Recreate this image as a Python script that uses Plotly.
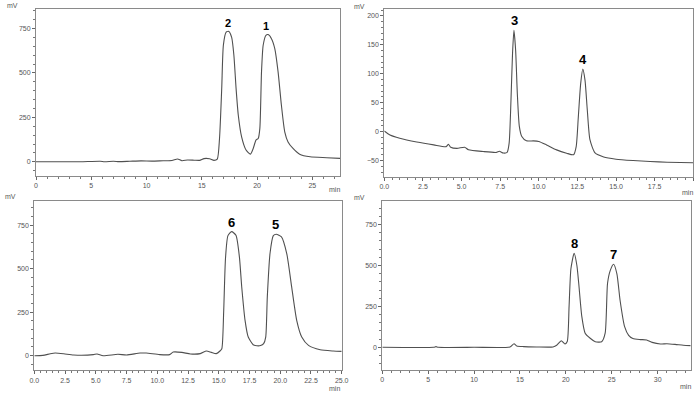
import plotly.graph_objects as go

# ---------------- data ----------------
t1 = [0, 2, 4, 5.8, 6.2, 7.0, 7.5, 8.5, 9.5, 10.5, 11.5, 12.3, 12.8, 13.2, 13.7, 14.3, 14.8, 15.2, 15.7, 16.1,
      16.4, 16.6, 16.8, 16.95, 17.2, 17.45, 17.7, 17.9, 18.1, 18.3, 18.6, 19.0, 19.4, 19.65, 19.9, 20.1, 20.25,
      20.4, 20.55, 20.8, 21.0, 21.3, 21.6, 21.9, 22.2, 22.5, 22.8, 23.25, 23.85, 24.8, 26.3, 27.5]
v1 = [0, 0, 0, 3, 0, 3, 1, 3, 5, 4, 6, 7, 16, 6, 10, 9, 8, 18, 17, 8,
      15, 131, 412, 656, 730, 734, 700, 600, 412, 262, 140, 66, 43, 75, 122, 131, 188,
      506, 656, 712, 716, 693, 637, 506, 318, 169, 112, 75, 43, 28, 23, 19]

t2 = [0, 0.37, 1.0, 2.1, 3.2, 4.0, 4.15, 4.3, 4.7, 5.2, 5.45, 6.4, 7.25, 7.45, 7.7, 7.95, 8.08, 8.2, 8.3,
      8.39, 8.5, 8.61, 8.74, 8.9, 9.2, 9.65, 10.0, 10.5, 11.15, 11.8, 12.25, 12.42, 12.56, 12.71, 12.85,
      12.99, 13.14, 13.31, 13.64, 14.2, 15.0, 16.1, 17.2, 18.3, 20.0]
v2 = [1, -6, -11.5, -18, -23, -26, -22, -27, -29, -27, -31.5, -34.5, -36, -34, -37, -36, -20, 55, 135,
      175, 141, 66, 9, -8.6, -16, -16, -17, -23, -31.6, -37.4, -40, -26, 26, 83, 108,
      89, 37, -14, -37, -44, -47.7, -50, -51.7, -53, -54]

t3 = [0, 0.7, 1.3, 1.7, 2.4, 3.2, 4.8, 5.1, 5.6, 6.8, 7.5, 8.6, 9.1, 10.2, 11.0, 11.3, 12.0, 12.7, 13.5,
      14.0, 14.4, 14.8, 15.1, 15.25, 15.4, 15.55, 15.75, 16.05, 16.4, 16.68, 16.87, 17.14, 17.4, 17.8, 18.1,
      18.4, 18.65, 18.82, 18.95, 19.17, 19.44, 19.68, 20.1, 20.53, 20.93, 21.34, 21.75, 22.3, 23.25, 24.3, 25.0]
v3 = [0, 2, 11, 15, 11, 4, 6, 10, 0, 8, 4, 15, 15, 6, 6, 21, 19, 10, 12,
      27, 19, 12, 27, 40, 250, 560, 690, 713, 692, 568, 395, 203, 107, 63, 57,
      58, 69, 107, 338, 587, 690, 698, 683, 587, 395, 203, 107, 59, 34, 27, 25]

t4 = [0, 5.6, 5.85, 6.1, 10, 13.9, 14.35, 14.65, 15.4, 16.8, 18.6, 19.0, 19.5, 19.9, 20.15, 20.35, 20.55,
      20.9, 21.2, 21.4, 21.74, 22.1, 22.65, 23.2, 23.9, 24.28, 24.54, 24.84, 25.2, 25.56, 25.9, 26.4,
      26.84, 27.3, 28.1, 28.8, 29.4, 30.3, 31.0, 31.9, 32.8, 33.6]
v4 = [0, 0, 4, 0, 0, 2, 22, 8, 4, 2, 2, 12, 40, 20, 35, 250, 480,
      575, 500, 391, 187, 86, 55, 34, 34, 86, 391, 470, 507, 449, 289, 126,
      73, 53, 47, 45, 30, 20, 22, 18, 12, 10]

# peak labels: (panel, label, retention time, height)
peak_labels = [
    (1, "2", 17.33, 734), (1, "1", 20.85, 718),
    (2, "3", 8.41, 175), (2, "4", 12.84, 108),
    (3, "6", 16.0, 713), (3, "5", 19.62, 698),
    (4, "8", 20.9, 575), (4, "7", 25.2, 507),
]

x_ranges = [[0, 27.5], [0, 20], [0, 25], [0, 33.6]]
y_ranges = [[-80, 860], [-78, 212], [-84, 889], [-137, 894]]
x_dticks = [5, 2.5, 2.5, 5]
x_minor = [1, 0.5, 0.5, 1]
y_dticks = [250, 50, 250, 250]
y_minor = [50, 10, 50, 50]
x_fmt = ["d", ".1f", ".1f", "d"]

# ---------------- layout geometry (pixels) ----------------
W, H = 700, 397
boxes = [  # left, right, top, bottom in pixels
    (36, 340, 9, 176),
    (384.3, 693.3, 9, 176.7),
    (34.3, 341.7, 201, 370.3),
    (382.3, 690.7, 201, 369.7),
]

series = [(t1, v1), (t2, v2), (t3, v3), (t4, v4)]

fig = go.Figure()
line_col = "#505050"
frame_col = "#8a8a8a"
tick_font = dict(family="Liberation Sans, Arial, sans-serif", size=7, color="#555555")

for i, (tt, vv) in enumerate(series):
    k = i + 1
    xa = "x" if k == 1 else f"x{k}"
    ya = "y" if k == 1 else f"y{k}"
    fig.add_trace(go.Scatter(x=tt, y=vv, mode="lines", xaxis=xa, yaxis=ya,
                             line=dict(color=line_col, width=1.1, shape="spline", smoothing=0.6),
                             showlegend=False, hoverinfo="skip"))
    l, r, t, b = boxes[i]
    xkey = "xaxis" if k == 1 else f"xaxis{k}"
    ykey = "yaxis" if k == 1 else f"yaxis{k}"
    fig.layout[xkey] = dict(
        domain=[l / W, r / W], anchor=ya, range=x_ranges[i], dtick=x_dticks[i], tick0=0,
        tickformat=x_fmt[i], showgrid=False, zeroline=False, showline=True, mirror=True,
        automargin=False,
        linecolor=frame_col, linewidth=1, ticks="outside", ticklen=3, tickcolor="#666666",
        tickfont=tick_font, minor=dict(ticks="outside", dtick=x_minor[i], ticklen=2, tickcolor="#777777"),
    )
    fig.layout[ykey] = dict(
        domain=[1 - b / H, 1 - t / H], anchor=xa, range=y_ranges[i], dtick=y_dticks[i], tick0=0,
        showgrid=False, zeroline=False, showline=True, mirror=True,
        automargin=False,
        linecolor=frame_col, linewidth=1, ticks="outside", ticklen=3, tickcolor="#666666",
        tickfont=tick_font, minor=dict(ticks="outside", dtick=y_minor[i], ticklen=2, tickcolor="#777777"),
    )

annotations = []
for panel, txt, px, py in peak_labels:
    xa = "x" if panel == 1 else f"x{panel}"
    ya = "y" if panel == 1 else f"y{panel}"
    annotations.append(dict(
        x=px, y=py, xref=xa, yref=ya, text=f"<b>{txt}</b>", showarrow=False,
        yanchor="bottom", yshift=0,
        font=dict(family="Liberation Sans, Arial, sans-serif", size=11 if panel == 1 else 13, color="black"),
    ))

unit_pos = [  # ("mV" pixel pos), ("min" pixel pos)
    ((12.7, 5.7), (334, 189)),
    ((360, 6), (687, 192)),
    ((10, 196), (334, 388)),
    ((360, 197), (685, 386)),
]
for (mx, my), (nx, ny) in unit_pos:
    annotations.append(dict(x=mx / W, y=1 - my / H, xref="paper", yref="paper", text="mV",
                            showarrow=False, xanchor="center", yanchor="middle", font=tick_font))
    annotations.append(dict(x=nx / W, y=1 - ny / H, xref="paper", yref="paper", text="min",
                            showarrow=False, xanchor="center", yanchor="middle", font=tick_font))

fig.update_layout(
    width=W, height=H, margin=dict(l=0, r=0, t=0, b=0),
    paper_bgcolor="white", plot_bgcolor="white",
    annotations=annotations, showlegend=False,
)

fig.write_html("out.html",
               config={"displayModeBar": False, "staticPlot": True},
               post_script="document.body.style.margin='0';document.body.style.padding='0';"
                           "document.body.style.overflow='hidden';")
